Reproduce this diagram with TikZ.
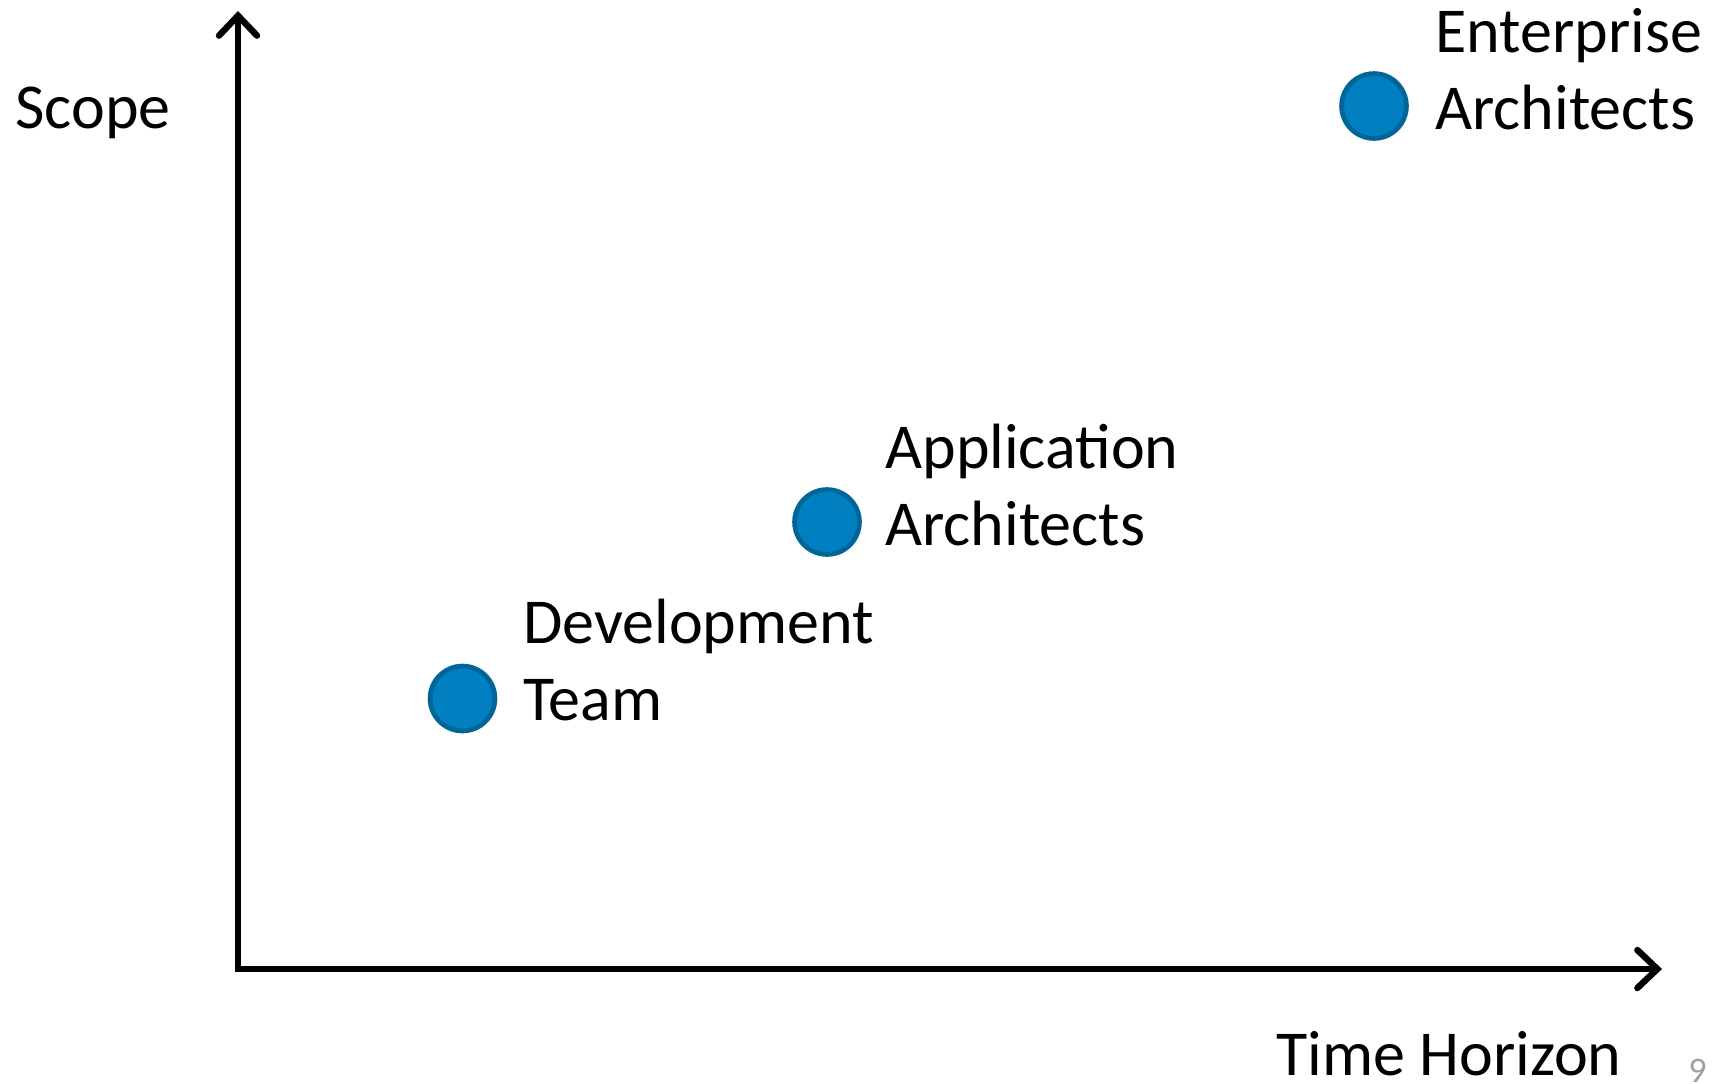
\documentclass[tikz,border=0pt]{standalone}
\usepackage{fontspec}
\setmainfont{Carlito}
\usepackage{xcolor}
\usepackage{tikz}
\usetikzlibrary{arrows.meta,positioning}
\definecolor{dotblue}{RGB}{0,128,192}
\definecolor{dotedge}{RGB}{0,101,153}
\definecolor{pagegray}{RGB}{160,160,160}

\begin{document}
\begin{tikzpicture}[x=0.5pt, y=-0.5pt,
    axis/.style={line width=3.2pt, line join=miter,
      {Straight Barb[length=10pt,width=19pt,line cap=round]}-{Straight Barb[length=10pt,width=19pt,line cap=round]}},
    dot/.style={circle, draw=dotedge, fill=dotblue, line width=2.4pt, minimum size=32.4pt, inner sep=0pt},
    lbl/.style={anchor=base west, inner sep=0pt, align=left, font=\fontsize{32}{38.5}\selectfont}]

  \useasboundingbox (0,0) rectangle (1713,1083);

  % Axes
  \coordinate (ytop) at (238,11);
  \coordinate (origin) at (238,969);
  \coordinate (xend) at (1662,969);
  \draw [axis] (ytop) -- (origin) -- (xend);

  \node[lbl] (scope) at (15,128) {Scope};
  \node[lbl] (time) at (1276,1075) {Time Horizon};

  % Dots
  \node[dot] (dev) at (462.5,698.5) {};
  \node[dot] (app) at (827,522) {};
  \node[dot] (ent) at (1374,106) {};

  % Labels (base = last line)
  \node[lbl] (devlbl) at (523,720) {Development\\Team};
  \node[lbl] (applbl) at (885,545) {Application\\Architects};
  \node[lbl] (entlbl) at (1435,129) {Enterprise\\Architects};

  % page number
  \node[anchor=base west, inner sep=0pt, text=pagegray, font=\fontsize{18}{20}\selectfont] (page) at (1688,1082) {9};

\end{tikzpicture}
\end{document}
